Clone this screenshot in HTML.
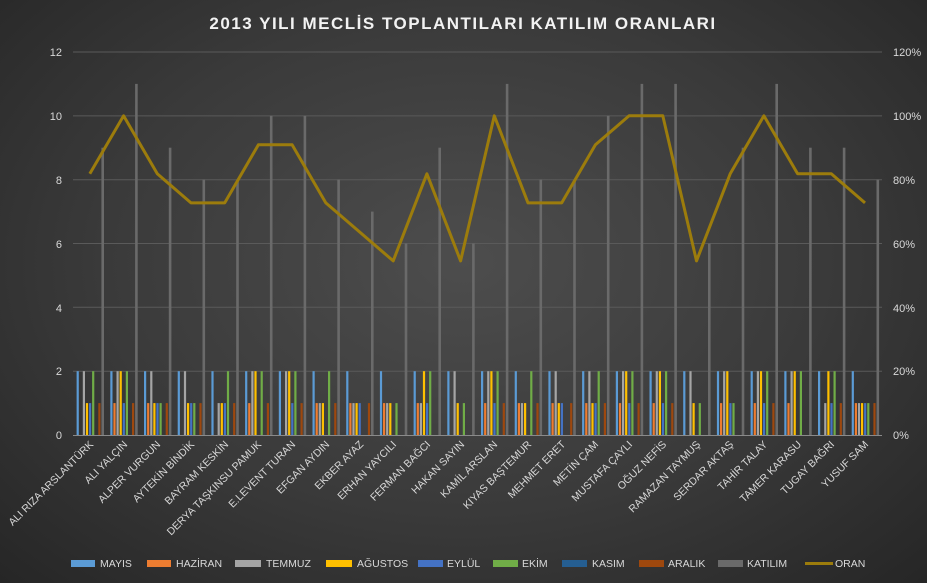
<!DOCTYPE html>
<html><head><meta charset="utf-8"><style>
html,body{margin:0;padding:0;}
body{width:927px;height:583px;overflow:hidden;background:radial-gradient(ellipse at 50% 45%,#4d4d4d 0%,#3a3a3a 55%,#262626 100%);font-family:"Liberation Sans",sans-serif;}
svg{position:absolute;left:0;top:0}
</style></head><body>
<svg id="c" width="927" height="583" xmlns="http://www.w3.org/2000/svg" font-family="Liberation Sans, sans-serif">
<text x="463" y="29" text-anchor="middle" fill="#f2f2f2" font-size="17" font-weight="bold" letter-spacing="1.5">2013 YILI MECLİS TOPLANTILARI  KATILIM  ORANLARI</text>
<g id="grid" stroke="#5a5a5a" stroke-width="1"></g>
<g id="bars"></g>
<line x1="73" y1="435.5" x2="882" y2="435.5" stroke="#8a8a8a" stroke-width="1"/>
<g fill="#d9d9d9" font-size="11" text-anchor="end">
<text x="62" y="439">0</text><text x="62" y="375">2</text><text x="62" y="312">4</text><text x="62" y="248">6</text><text x="62" y="184">8</text><text x="62" y="120">10</text><text x="62" y="56">12</text>
</g>
<g fill="#d9d9d9" font-size="11" text-anchor="start">
<text x="893" y="439">0%</text><text x="893" y="375">20%</text><text x="893" y="312">40%</text><text x="893" y="248">60%</text><text x="893" y="184">80%</text><text x="893" y="120">100%</text><text x="893" y="56">120%</text>
</g>
<polyline id="line" fill="none" stroke="#9c7c0c" stroke-width="3" stroke-linejoin="round"/>
<g fill="#d9d9d9" font-size="10.5" text-anchor="end" id="xl">
<text transform="translate(94,445) rotate(-45)">ALI RIZA ARSLANTÜRK</text>
<text transform="translate(128,445) rotate(-45)">ALI YALÇIN</text>
<text transform="translate(161,445) rotate(-45)">ALPER VURGUN</text>
<text transform="translate(195,445) rotate(-45)">AYTEKİN BİNDİK</text>
<text transform="translate(229,445) rotate(-45)">BAYRAM KESKİN</text>
<text transform="translate(262,445) rotate(-45)">DERYA TAŞKINSU PAMUK</text>
<text transform="translate(296,445) rotate(-45)">E.LEVENT TURAN</text>
<text transform="translate(330,445) rotate(-45)">EFGAN AYDIN</text>
<text transform="translate(364,445) rotate(-45)">EKBER AYAZ</text>
<text transform="translate(397,445) rotate(-45)">ERHAN YAYCILI</text>
<text transform="translate(431,445) rotate(-45)">FERMAN BAĞCI</text>
<text transform="translate(465,445) rotate(-45)">HAKAN SAYIN</text>
<text transform="translate(498,445) rotate(-45)">KAMİL ARSLAN</text>
<text transform="translate(532,445) rotate(-45)">KIYAS BAŞTEMUR</text>
<text transform="translate(566,445) rotate(-45)">MEHMET ERET</text>
<text transform="translate(599,445) rotate(-45)">METİN ÇAM</text>
<text transform="translate(633,445) rotate(-45)">MUSTAFA ÇAYLI</text>
<text transform="translate(667,445) rotate(-45)">OĞUZ NEFİS</text>
<text transform="translate(701,445) rotate(-45)">RAMAZAN TAYMUŞ</text>
<text transform="translate(734,445) rotate(-45)">SERDAR AKTAŞ</text>
<text transform="translate(768,445) rotate(-45)">TAHİR TALAY</text>
<text transform="translate(802,445) rotate(-45)">TAMER KARASU</text>
<text transform="translate(835,445) rotate(-45)">TUGAY BAĞRI</text>
<text transform="translate(869,445) rotate(-45)">YUSUF SAM</text>
</g>
<g font-size="10.5" fill="#d9d9d9">
<rect x="71" y="560" width="24" height="7" fill="#5B9BD5"/><text x="100" y="567">MAYIS</text>
<rect x="147" y="560" width="24" height="7" fill="#ED7D31"/><text x="176" y="567">HAZİRAN</text>
<rect x="235" y="560" width="26" height="7" fill="#A5A5A5"/><text x="266" y="567">TEMMUZ</text>
<rect x="326" y="560" width="26" height="7" fill="#FFC000"/><text x="357" y="567">AĞUSTOS</text>
<rect x="418" y="560" width="25" height="7" fill="#4472C4"/><text x="447" y="567">EYLÜL</text>
<rect x="493" y="560" width="25" height="7" fill="#70AD47"/><text x="522" y="567">EKİM</text>
<rect x="562" y="560" width="25" height="7" fill="#255E91"/><text x="592" y="567">KASIM</text>
<rect x="639" y="560" width="25" height="7" fill="#9E480E"/><text x="668" y="567">ARALIK</text>
<rect x="718" y="560" width="25" height="7" fill="#6a6a6a"/><text x="747" y="567">KATILIM</text>
<rect x="805" y="562" width="28" height="3" fill="#9c7c0c"/><text x="835" y="567">ORAN</text>
</g>
</svg>
<script>
var NS="http://www.w3.org/2000/svg";
var g=document.getElementById("grid");
for(var k=1;k<=6;k++){var y=435-k*63.83;var l=document.createElementNS(NS,"line");l.setAttribute("x1",73);l.setAttribute("x2",882);l.setAttribute("y1",y.toFixed(1));l.setAttribute("y2",y.toFixed(1));g.appendChild(l);}
var cols=["#5B9BD5","#ED7D31","#A5A5A5","#FFC000","#4472C4","#70AD47","#255E91","#9E480E","#6a6a6a"];
var D=[
[2,0,2,1,1,2,0,1],[2,1,2,2,1,2,0,1],[2,1,2,1,1,1,0,1],[2,0,2,1,1,1,0,1],[2,0,1,1,1,2,0,1],[2,1,2,2,0,2,0,1],
[2,0,2,2,1,2,0,1],[2,1,1,1,0,2,0,1],[2,1,1,1,1,0,0,1],[2,1,1,1,0,1,0,0],[2,1,1,2,1,2,0,0],[2,0,2,1,0,1,0,0],
[2,1,2,2,1,2,0,1],[2,1,1,1,0,2,0,1],[2,1,2,1,1,0,0,1],[2,1,2,1,1,2,0,1],[2,1,2,2,1,2,0,1],[2,1,2,2,1,2,0,1],
[2,0,2,1,0,1,0,0],[2,1,2,2,1,1,0,0],[2,1,2,2,1,2,0,1],[2,1,2,2,0,2,0,0],[2,0,1,2,1,2,0,1],[2,1,1,1,1,1,0,1]];
var K=[9,11,9,8,8,10,10,8,7,6,9,6,11,8,8,10,11,11,6,9,11,9,9,8];
var u=31.92,cw=33.7,bg=document.getElementById("bars"),pts=[];
for(var i=0;i<24;i++){var x0=73+cw*i;var v=D[i].concat([K[i]]);
for(var j=0;j<9;j++){if(!v[j])continue;var r=document.createElementNS(NS,"rect");var h=v[j]*u;
r.setAttribute("x",(x0+3.6+j*3.1).toFixed(2));r.setAttribute("width",j==8?2.6:2.2);r.setAttribute("y",(435-h).toFixed(1));r.setAttribute("height",h.toFixed(1));r.setAttribute("fill",cols[j]);bg.appendChild(r);}
pts.push((x0+cw/2).toFixed(1)+","+(435-K[i]/11*319.2).toFixed(1));}
document.getElementById("line").setAttribute("points",pts.join(" "));
</script>
</body></html>
